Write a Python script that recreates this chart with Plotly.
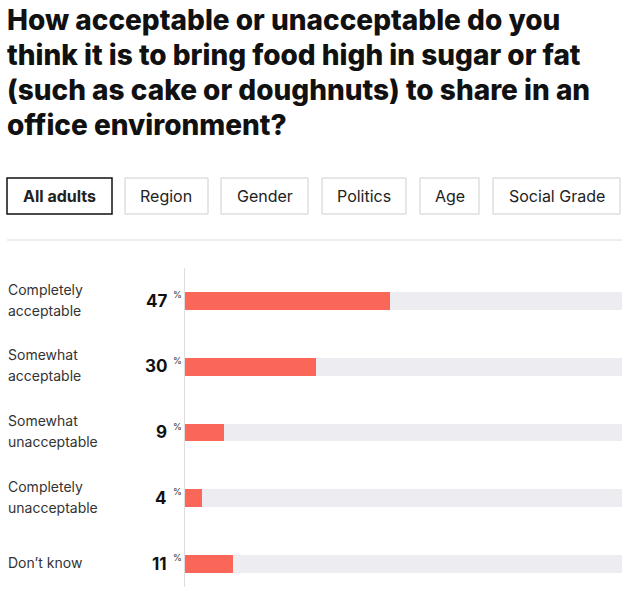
import plotly.graph_objects as go

categories = ["Completely<br>acceptable", "Somewhat<br>acceptable", "Somewhat<br>unacceptable",
              "Completely<br>unacceptable", "Don\u2019t know"]
values = [47, 30, 9, 4, 11]
tabs = ["All adults", "Region", "Gender", "Politics", "Age", "Social Grade"]
title_lines = ["How acceptable or unacceptable do you",
               "think it is to bring food high in sugar or fat",
               "(such as cake or doughnuts) to share in an",
               "office environment?"]

W, H = 634, 591
FONT = "Inter"


def px(x):
    return x / W


def py(y):
    return 1 - y / H


fig = go.Figure()
# grey track behind each bar
fig.add_trace(go.Bar(y=categories, x=[100] * len(categories), orientation="h",
                     marker=dict(color="#ededf1", line=dict(width=0)), width=0.27,
                     hoverinfo="skip", showlegend=False))
fig.add_trace(go.Bar(y=categories, x=values, orientation="h",
                     marker=dict(color="#fa6658", line=dict(width=0)), width=0.27,
                     showlegend=False))

ann = []
for k, line in enumerate(title_lines):
    ann.append(dict(text=line, x=px(5), y=py(20 + 35 * k), xref="paper", yref="paper",
                    xanchor="left", yanchor="middle", align="left", showarrow=False,
                    font=dict(family=FONT, size=28, color="#111", weight=800)))

# tab buttons
tab_x = [(7, 112), (125, 208), (221, 308), (322, 406), (420, 479), (493, 620)]
shapes = []
for i, (t, (x0, x1)) in enumerate(zip(tabs, tab_x)):
    sel = i == 0
    shapes.append(dict(type="rect", xref="paper", yref="paper", x0=px(x0), x1=px(x1),
                       y0=py(214), y1=py(178),
                       line=dict(color="#111" if sel else "#cfcfcf", width=1.5 if sel else 1),
                       fillcolor="white"))
    ann.append(dict(text=f"<b>{t}</b>" if sel else t, x=px((x0 + x1) / 2), y=py(196),
                    xref="paper", yref="paper", xanchor="center", yanchor="middle",
                    showarrow=False, font=dict(family=FONT, size=16, color="#222")))

shapes.append(dict(type="line", xref="paper", yref="paper", x0=px(7), x1=px(622),
                   y0=py(240), y1=py(240), line=dict(color="#dcdcdc", width=1)))

for c, v in zip(categories, values):
    parts = c.split("<br>")
    for k, part in enumerate(parts):
        ann.append(dict(text=part, x=px(6), y=c, xref="paper", yref="y", xanchor="left",
                        yshift=((len(parts) - 1) / 2 - k) * 21 + 1, showarrow=False,
                        font=dict(family=FONT, size=14, color="#333")))
    ann.append(dict(text=f"<b>{v}</b>", x=px(169), y=c, xref="paper", yref="y",
                    xanchor="right", showarrow=False,
                    font=dict(family=FONT, size=17, color="#111")))
    ann.append(dict(text="%", x=px(171), y=c, xref="paper", yref="y", xanchor="left",
                    yshift=6, showarrow=False,
                    font=dict(family=FONT, size=9, color="#333")))

fig.update_layout(
    width=W, height=H, margin=dict(l=0, r=0, t=0, b=0),
    paper_bgcolor="white", plot_bgcolor="white",
    barmode="overlay", bargap=0,
    xaxis=dict(domain=[px(185), px(622)], range=[0, 100], visible=False, fixedrange=True),
    yaxis=dict(domain=[py(586.8), py(267.7)], range=[4.35, -0.5], showticklabels=False,
               showgrid=False, zeroline=False, showline=True, linecolor="#dedede",
               linewidth=1, ticks=""),
    annotations=ann, shapes=shapes,
)

fig.write_html("out.html", config={"displayModeBar": False},
               post_script="document.body.style.margin='0';")
